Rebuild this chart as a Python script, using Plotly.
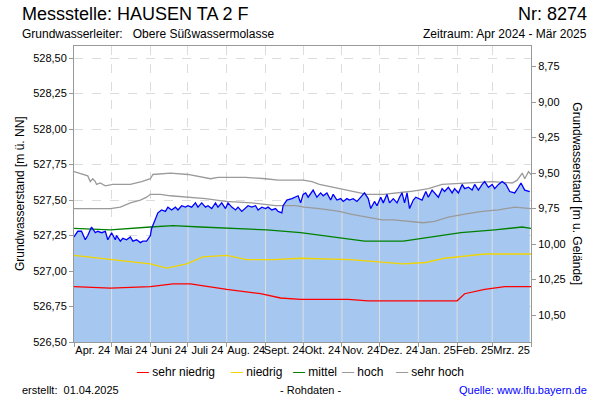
import numpy as np
import pandas as pd
import plotly.graph_objects as go

FONT = "Liberation Sans, Arial, sans-serif"

START = "2024-04-01"
ENDE = "2025-04-01"
GELAENDE = 537.19  # Geländehöhe in m ü. NN (rechte Achse = Gelände - Wasserstand)

MONATE = ["Apr. 24", "Mai 24", "Juni 24", "Juli 24", "Aug. 24", "Sept. 24",
          "Okt. 24", "Nov. 24", "Dez. 24", "Jan. 25", "Feb. 25", "Mrz. 25"]
Y_TICKS = [526.50, 526.75, 527.00, 527.25, 527.50, 527.75, 528.00, 528.25, 528.50]
Y2_TICKS = [8.75, 9.00, 9.25, 9.50, 9.75, 10.00, 10.25, 10.50]

# Messwerte (Tage ab 01.04.2024, m ü. NN)
MESS_TAG = [0, 3, 6, 9, 11, 14, 17, 19, 22, 25, 27, 30, 33, 34, 37, 39, 42, 45, 47, 50,
            53, 55, 58, 61, 62, 65, 67, 70, 73, 75, 78, 81, 83, 86, 89, 91,
            94, 97, 99, 102, 105, 107, 110, 113, 115, 118, 121, 123, 126, 129, 131, 134,
            137, 139, 142, 145, 147, 150, 153, 155, 158, 161, 163, 166, 167, 170, 174, 177,
            179, 181, 183,
            185, 187, 191, 194, 197, 199, 202, 205, 207, 210, 213, 215, 218, 220, 223, 226,
            228, 232, 235, 237, 240, 242, 245, 247, 250, 252, 255, 258, 260, 262, 264, 266,
            268, 271, 273, 276,
            278, 281, 283, 286, 288, 291, 294, 296, 299, 302, 304, 307, 310, 312, 315, 318,
            320, 323, 326, 328, 331, 334, 336, 339, 342, 345, 348, 352, 355, 357, 360, 364]
MESS_WERT = [527.24, 527.28, 527.28, 527.22, 527.25, 527.31, 527.27, 527.28, 527.27, 527.28,
             527.22, 527.27, 527.22, 527.25, 527.21, 527.23, 527.22, 527.24, 527.21, 527.22,
             527.20, 527.21, 527.21, 527.25, 527.30, 527.36, 527.41, 527.43, 527.42, 527.45,
             527.43, 527.45, 527.43, 527.46, 527.45, 527.46,
             527.45, 527.48, 527.45, 527.48, 527.45, 527.46, 527.44, 527.48, 527.45, 527.48,
             527.44, 527.48, 527.45, 527.43, 527.45, 527.42, 527.44, 527.46, 527.45, 527.46,
             527.43, 527.45, 527.44, 527.45, 527.43, 527.44, 527.42, 527.41, 527.46, 527.50,
             527.51, 527.52, 527.53, 527.48, 527.54,
             527.55, 527.52, 527.57, 527.52, 527.55, 527.53, 527.55, 527.50, 527.54, 527.50,
             527.51, 527.49, 527.51, 527.50, 527.51, 527.49, 527.51, 527.55, 527.51, 527.44,
             527.49, 527.46, 527.52, 527.48, 527.54, 527.48, 527.51, 527.48, 527.52, 527.55,
             527.48, 527.55, 527.44, 527.50, 527.52, 527.51,
             527.50, 527.56, 527.52, 527.57, 527.55, 527.52, 527.58, 527.56, 527.59, 527.55,
             527.58, 527.55, 527.61, 527.58, 527.59, 527.57, 527.61, 527.57, 527.61, 527.63,
             527.59, 527.61, 527.58, 527.61, 527.63, 527.61, 527.56, 527.55, 527.59, 527.62,
             527.57, 527.56]

# Kennlinien (Tage ab 01.04.2024, m ü. NN)
SEHR_HOCH_TAG = [0, 7, 11, 13, 15, 17, 18, 21, 25, 31, 45, 54, 61, 63, 77, 91, 109, 115, 137,
                 153, 163, 183, 190, 196, 212, 226, 234, 247, 260, 268, 276, 283, 294, 315,
                 334, 350, 354, 358, 360, 363, 365]
SEHR_HOCH = [527.70, 527.68, 527.67, 527.63, 527.65, 527.63, 527.61, 527.62, 527.60, 527.61,
             527.61, 527.63, 527.65, 527.68, 527.69, 527.68, 527.65, 527.66, 527.66, 527.65,
             527.64, 527.64, 527.63, 527.61, 527.58, 527.55, 527.54, 527.54, 527.55, 527.56,
             527.57, 527.58, 527.61, 527.62, 527.63, 527.62, 527.64, 527.69, 527.65, 527.70,
             527.68]
HOCH_TAG = [0, 29, 37, 45, 53, 58, 61, 69, 77, 91, 105, 121, 142, 161, 177, 184, 196, 212,
            221, 234, 246, 255, 279, 288, 299, 312, 326, 339, 352, 365]
HOCH = [527.44, 527.44, 527.45, 527.48, 527.50, 527.52, 527.54, 527.54, 527.53, 527.52,
        527.51, 527.49, 527.48, 527.46, 527.46, 527.45, 527.44, 527.42, 527.40, 527.38,
        527.36, 527.36, 527.34, 527.35, 527.38, 527.40, 527.42, 527.43, 527.45, 527.44]
MITTEL_TAG = [0, 29, 61, 79, 101, 127, 154, 181, 213, 232, 263, 279, 309, 336, 358, 365]
MITTEL = [527.30, 527.29, 527.31, 527.32, 527.31, 527.30, 527.29, 527.27, 527.23, 527.21,
          527.21, 527.23, 527.27, 527.29, 527.31, 527.30]
NIEDRIG_TAG = [0, 29, 61, 74, 90, 103, 122, 138, 159, 181, 221, 263, 281, 296, 328, 350, 365]
NIEDRIG = [527.11, 527.08, 527.05, 527.02, 527.05, 527.10, 527.11, 527.08, 527.08, 527.09,
           527.08, 527.05, 527.06, 527.09, 527.12, 527.12, 527.12]
SEHR_NIEDRIG_TAG = [0, 29, 61, 79, 93, 122, 149, 165, 181, 219, 235, 263, 306, 312, 328, 344, 365]
SEHR_NIEDRIG = [526.89, 526.88, 526.89, 526.91, 526.91, 526.87, 526.84, 526.81, 526.80, 526.80,
                526.79, 526.79, 526.79, 526.84, 526.87, 526.89, 526.89]


def datum(tage):
    return pd.Timestamp(START) + pd.to_timedelta(np.asarray(tage), unit="D")


monatsanfang = pd.date_range(START, ENDE, freq="MS")
monatsmitte = monatsanfang[:-1] + (monatsanfang[1:] - monatsanfang[:-1]) / 2

fig = go.Figure()

# Fläche unter der Ganglinie
fig.add_trace(go.Scatter(
    x=datum(MESS_TAG), y=MESS_WERT, mode="lines", fill="tozeroy",
    fillcolor="#a6c8f0", line=dict(width=0), hoverinfo="skip", showlegend=False,
))

# Monatslinien in der Fläche (bis zur Ganglinie)
tage_ma = (monatsanfang[1:-1] - pd.Timestamp(START)).days.values
pegel_ma = np.interp(tage_ma, MESS_TAG, MESS_WERT) - 0.01
gx, gy = [], []
for d, p in zip(monatsanfang[1:-1], pegel_ma):
    gx += [d, d, None]
    gy += [Y_TICKS[0], p, None]
fig.add_trace(go.Scatter(
    x=gx, y=gy, mode="lines", line=dict(color="#dedede", width=1),
    hoverinfo="skip", showlegend=False,
))

kennlinien = [
    ("sehr niedrig", SEHR_NIEDRIG_TAG, SEHR_NIEDRIG, "#ff0000"),
    ("niedrig", NIEDRIG_TAG, NIEDRIG, "#f2d500"),
    ("mittel", MITTEL_TAG, MITTEL, "#008000"),
    ("hoch", HOCH_TAG, HOCH, "#9a9a9a"),
    ("sehr hoch", SEHR_HOCH_TAG, SEHR_HOCH, "#9a9a9a"),
]
for name, tage, werte, farbe in kennlinien:
    fig.add_trace(go.Scatter(
        x=datum(tage), y=werte, name=name, mode="lines",
        line=dict(color=farbe, width=1.3), showlegend=False,
    ))

fig.add_trace(go.Scatter(
    x=datum(MESS_TAG), y=MESS_WERT, mode="lines",
    line=dict(color="#0000ff", width=1.3), showlegend=False,
))

# unsichtbare Spur für die rechte Achse und die Monatsbeschriftung
fig.add_trace(go.Scatter(
    x=datum(MESS_TAG), y=[GELAENDE - w for w in MESS_WERT], xaxis="x2", yaxis="y2",
    mode="lines", line=dict(width=0), hoverinfo="skip", showlegend=False,
))

fig.update_layout(
    width=600,
    height=400,
    margin=dict(l=74, r=69, t=46, b=58),
    plot_bgcolor="white",
    paper_bgcolor="white",
    separators=",.",
    font=dict(family=FONT, size=11, color="black"),
    showlegend=False,
    xaxis=dict(
        type="date", range=[START, ENDE],
        tickmode="array", tickvals=list(monatsanfang), showticklabels=False,
        ticks="outside", ticklen=4, tickcolor="#999999",
        showgrid=True, gridcolor="#dcdcdc", griddash="dash",
        showline=True, linecolor="#999999", mirror=True, zeroline=False,
    ),
    xaxis2=dict(
        type="date", range=[START, ENDE], overlaying="x", anchor="y", side="bottom",
        tickmode="array", tickvals=list(monatsmitte), ticktext=MONATE, tickangle=0,
        ticks="", showgrid=False, showline=False, zeroline=False,
        tickfont=dict(size=11),
    ),
    yaxis=dict(
        range=[526.5, 528.585], tickmode="array", tickvals=Y_TICKS, tickformat=".2f",
        ticks="outside", ticklen=4, tickcolor="#999999",
        showgrid=True, gridcolor="#dcdcdc", griddash="dash",
        showline=True, linecolor="#999999", zeroline=False,
    ),
    yaxis2=dict(
        range=[GELAENDE - 526.5, GELAENDE - 528.585], overlaying="y", side="right",
        tickmode="array", tickvals=Y2_TICKS, tickformat=".2f",
        ticks="outside", ticklen=4, tickcolor="#999999",
        showgrid=False, showline=True, linecolor="#999999", zeroline=False,
    ),
)

# Legende als Textzeile unter der Achse
legende_x = [0.133, 0.339, 0.475, 0.582, 0.700]
for (name, _, _, farbe), lx in zip(kennlinien, legende_x):
    fig.add_annotation(
        text=f"<span style='color:{farbe}'>—</span> {name}", x=lx, y=-0.101,
        xref="paper", yref="paper", xanchor="left", yanchor="middle",
        showarrow=False, font=dict(size=12),
    )

texte = [
    dict(text="Messstelle: HAUSEN TA 2 F", x=-0.118, y=1.108, xanchor="left", size=18),
    dict(text="Nr: 8274", x=1.127, y=1.108, xanchor="right", size=18),
    dict(text="Grundwasserleiter:   Obere Süßwassermolasse", x=-0.118, y=1.042,
         xanchor="left", size=12),
    dict(text="Zeitraum: Apr 2024 - Mär 2025", x=1.127, y=1.042, xanchor="right", size=12),
    dict(text="erstellt:  01.04.2025", x=-0.118, y=-0.162, xanchor="left", size=11),
    dict(text="- Rohdaten -", x=0.517, y=-0.162, xanchor="center", size=11),
    dict(text="Quelle: www.lfu.bayern.de", x=1.127, y=-0.162, xanchor="right", size=11,
         color="#0000ff"),
]
for t in texte:
    fig.add_annotation(
        text=t["text"], x=t["x"], y=t["y"], xref="paper", yref="paper",
        xanchor=t["xanchor"], yanchor="middle", showarrow=False,
        font=dict(size=t["size"], color=t.get("color", "black")),
    )

fig.add_annotation(
    text="Grundwasserstand [m ü. NN]", x=-0.118, y=0.5, xref="paper", yref="paper",
    textangle=-90, showarrow=False, font=dict(size=12), xanchor="center", yanchor="middle",
)
fig.add_annotation(
    text="Grundwasserstand [m u. Gelände]", x=1.1, y=0.5, xref="paper", yref="paper",
    textangle=90, showarrow=False, font=dict(size=12), xanchor="center", yanchor="middle",
)

fig.write_html("out.html", config={"displayModeBar": False},
               post_script="document.body.style.margin='0';")
